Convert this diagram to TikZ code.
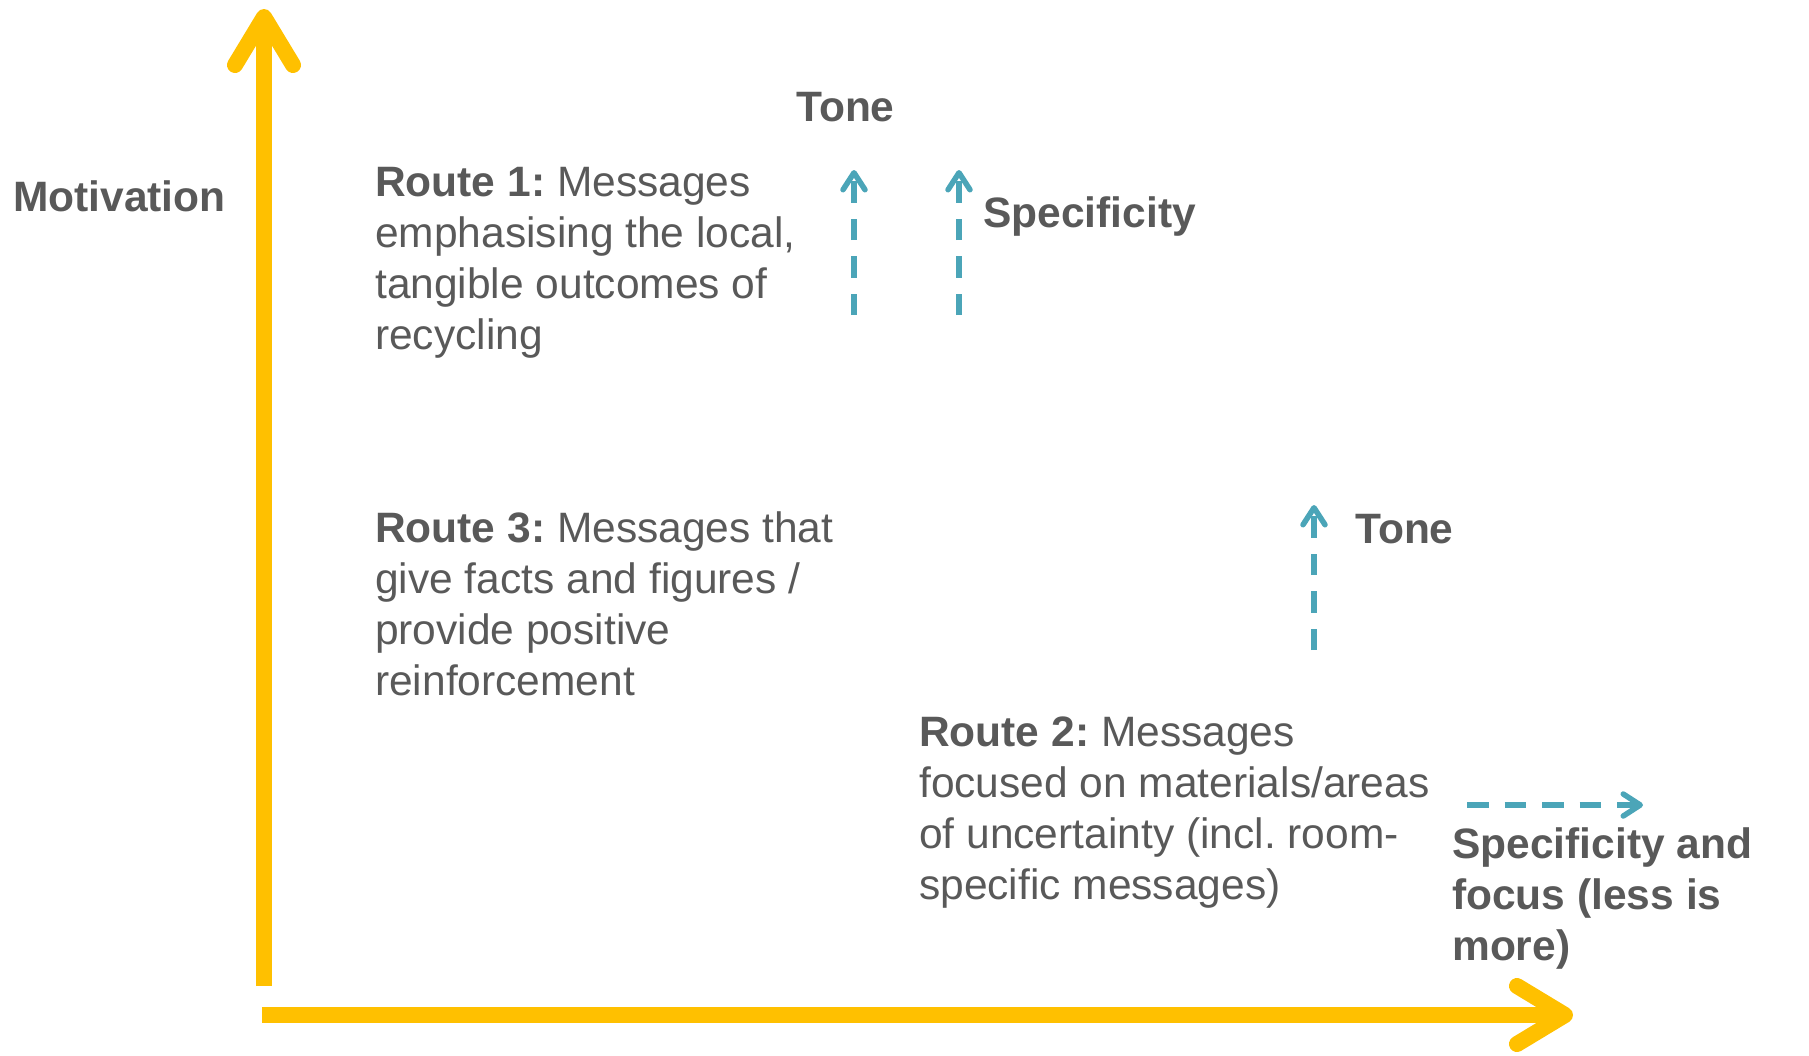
\documentclass[tikz,border=0pt]{standalone}
\usepackage{fontspec}
\setmainfont{Liberation Sans}
\usetikzlibrary{arrows.meta}
\definecolor{axisgold}{HTML}{FFC000}
\definecolor{routeteal}{HTML}{4BA5B8}
\definecolor{labelgray}{HTML}{595959}
\frenchspacing
\begin{document}
\begin{tikzpicture}[x=1pt,y=-1pt,
  txt/.style={inner sep=0pt, text=labelgray, font=\fontsize{42.5}{51}\selectfont},
  para/.style={txt, align=left, anchor=north west},
  lbl/.style={txt, anchor=base west, font=\fontsize{42.5}{51}\selectfont\bfseries},
  axis/.style={draw=axisgold, line width=16pt,
    -{Straight Barb[length=48pt, width=58pt, round]}},
  shiftarrow/.style={draw=routeteal, line width=5.5pt, dash pattern=on 21.5pt off 16pt,
    -{Straight Barb[length=17pt, width=22pt, round]}}]
\useasboundingbox (0,0) rectangle (1809,1055);

% axes
\coordinate (yfoot) at (264,986);
\coordinate (ytop)  at (264,9);
\coordinate (xfoot) at (262,1015);
\coordinate (xend)  at (1573,1015);
\draw[axis] (yfoot) -- (ytop);
\draw[axis] (xfoot) -- (xend);

% axis labels
\node[lbl] (motivation) at (13,211) {Motivation};
\node[lbl] (xlabel) at (1452,827) [anchor=north west, align=left]
  {Specificity and\\focus (less is\\more)};

% route descriptions
\node[para] (route1) at (375,167)
  {\textbf{Route 1:} Messages\\emphasising the local,\\tangible outcomes of\\recycling};
\node[para] (route3) at (375,511)
  {\textbf{Route 3:} Messages that\\give facts and figures /\\provide positive\\reinforcement};
\node[para] (route2) at (919,717)
  {\textbf{Route 2:} Messages\\focused on materials/areas\\of uncertainty (incl. room-\\specific messages)};

% shift labels
\node[lbl] (tone1) at (796,121) {Tone};
\node[lbl] (spec1) at (983,227) {Specificity};
\node[lbl] (tone2) at (1355,543) {Tone};

% shift arrows
\coordinate (t1a) at (854,315); \coordinate (t1b) at (854,170);
\coordinate (s1a) at (959,315); \coordinate (s1b) at (959,170);
\coordinate (t2a) at (1314,650); \coordinate (t2b) at (1314,505);
\coordinate (s2a) at (1467,805); \coordinate (s2b) at (1643,805);
\draw[shiftarrow] (t1a) -- (t1b);
\draw[shiftarrow] (s1a) -- (s1b);
\draw[shiftarrow] (t2a) -- (t2b);
\draw[shiftarrow] (s2a) -- (s2b);
\end{tikzpicture}
\end{document}
